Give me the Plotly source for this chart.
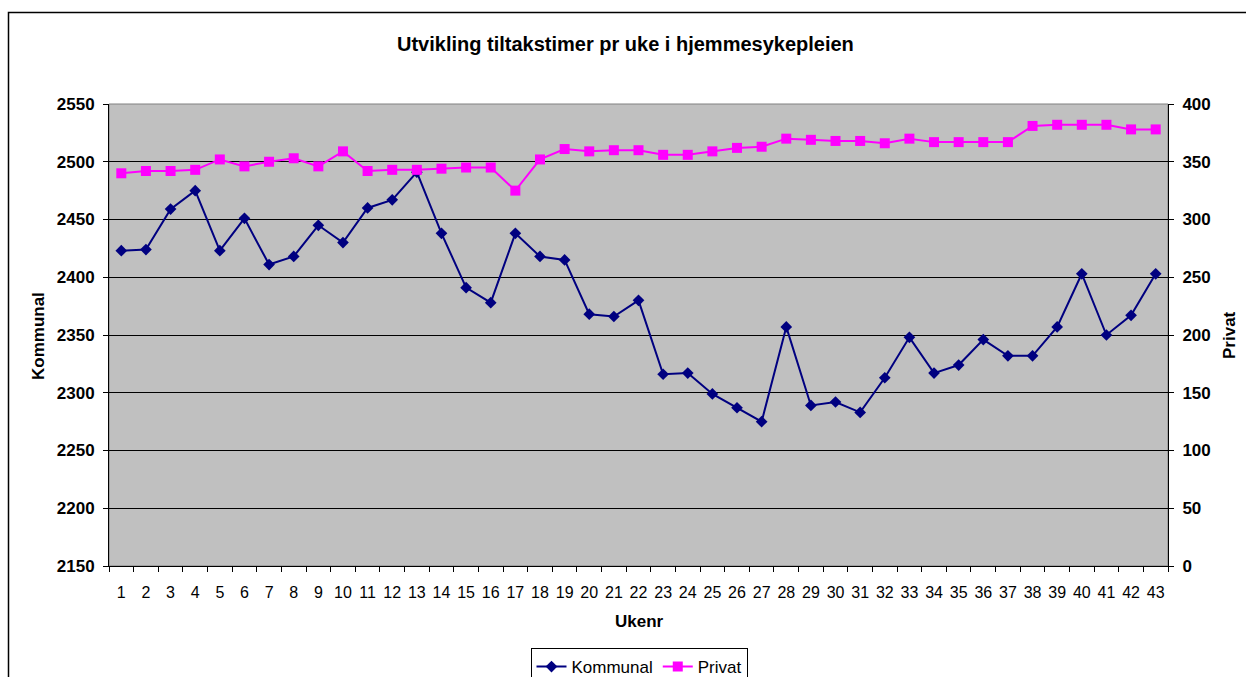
import plotly.graph_objects as go

weeks = [str(i) for i in range(1, 44)]
kommunal = [2423, 2424, 2459, 2475, 2423, 2451, 2411, 2418, 2445, 2430,
            2460, 2467, 2491, 2438, 2391, 2378, 2438, 2418, 2415, 2368,
            2366, 2380, 2316, 2317, 2299, 2287, 2275, 2357, 2289, 2292,
            2283, 2313, 2348, 2317, 2324, 2346, 2332, 2332, 2357, 2403,
            2350, 2367, 2403]
privat = [340, 342, 342, 343, 352, 346, 350, 353, 346, 359,
          342, 343, 343, 344, 345, 345, 325, 352, 361, 359,
          360, 360, 356, 356, 359, 362, 363, 370, 369, 368,
          368, 366, 370, 367, 367, 367, 367, 381, 382, 382,
          382, 378, 378]

title_text = "Utvikling tiltakstimer pr uke i hjemmesykepleien"
x_title = "Ukenr"
y1_title = "Kommunal"
y2_title = "Privat"

FONT = "Arial, Liberation Sans, sans-serif"
W, H = 1246, 677
L, R, T, B = 109, 1168, 104, 566
pw, ph = R - L, B - T

def px(x):
    return (x - L) / pw

def py(y):
    return (B - y) / ph

fig = go.Figure()
fig.add_trace(go.Scatter(
    x=weeks, y=kommunal, name="Kommunal", mode="lines+markers",
    line=dict(color="#000080", width=2),
    marker=dict(symbol="diamond", size=9, color="#000080"),
    yaxis="y"))
fig.add_trace(go.Scatter(
    x=weeks, y=privat, name="Privat", mode="lines+markers",
    line=dict(color="#FF00FF", width=2),
    marker=dict(symbol="square", size=10, color="#FF00FF"),
    yaxis="y2"))

fig.update_layout(
    width=W, height=H,
    margin=dict(l=L, r=W - R, t=T, b=H - B, autoexpand=False),
    paper_bgcolor="white",
    plot_bgcolor="#C0C0C0",
    font=dict(family=FONT, size=17, color="black"),
    showlegend=True,
    legend=dict(
        orientation="h", x=px(639), xanchor="center", y=py(648), yanchor="top",
        bgcolor="white", bordercolor="black", borderwidth=1,
        font=dict(family=FONT, size=17, color="black"),
        itemwidth=30, tracegroupgap=0,
    ),
    xaxis=dict(
        type="category", range=[-0.5, 42.5],
        showline=True, linecolor="black", linewidth=1,
        ticks="outside", tickson="boundaries", ticklen=5, tickcolor="black",
        showgrid=False, zeroline=False, tickangle=0,
        tickfont=dict(family=FONT, size=16, color="black"),
        ticklabelstandoff=12,
    ),
    yaxis=dict(
        range=[2150, 2550], dtick=50, tick0=2150,
        showline=True, linecolor="black", linewidth=1,
        ticks="outside", ticklen=5, tickcolor="black",
        showgrid=True, gridcolor="black", gridwidth=1,
        zeroline=False,
        tickfont=dict(family=FONT, size=17, color="black", weight="bold"),
        ticklabelstandoff=5,
    ),
    yaxis2=dict(
        range=[0, 400], dtick=50, tick0=0,
        overlaying="y", side="right",
        showline=True, linecolor="black", linewidth=1,
        ticks="outside", ticklen=5, tickcolor="black",
        showgrid=False, zeroline=False,
        tickfont=dict(family=FONT, size=17, color="black", weight="bold"),
        ticklabelstandoff=5,
    ),
    shapes=[
        dict(type="rect", xref="paper", yref="paper",
             x0=px(8.5), x1=px(1260), y0=py(700), y1=py(12.5),
             line=dict(color="black", width=1.5), fillcolor="rgba(0,0,0,0)",
             layer="below"),
        dict(type="rect", xref="paper", yref="paper",
             x0=0, x1=1, y0=0, y1=1,
             line=dict(color="#808080", width=1), fillcolor="rgba(0,0,0,0)",
             layer="below"),
    ],
    annotations=[
        dict(text="<b>" + title_text + "</b>", xref="paper", yref="paper",
             x=px(625), y=py(44), xanchor="center", yanchor="middle",
             showarrow=False, font=dict(family=FONT, size=20, color="black")),
        dict(text="<b>" + x_title + "</b>", xref="paper", yref="paper",
             x=px(639), y=py(621), xanchor="center", yanchor="middle",
             showarrow=False, font=dict(family=FONT, size=17, color="black")),
        dict(text="<b>" + y1_title + "</b>", xref="paper", yref="paper",
             x=px(38), y=py(336), xanchor="center", yanchor="middle",
             textangle=-90,
             showarrow=False, font=dict(family=FONT, size=17, color="black")),
        dict(text="<b>" + y2_title + "</b>", xref="paper", yref="paper",
             x=px(1229), y=py(335), xanchor="center", yanchor="middle",
             textangle=-90,
             showarrow=False, font=dict(family=FONT, size=17, color="black")),
    ],
)

fig.write_html("out.html",
               config={"displayModeBar": False},
               post_script="document.body.style.margin='0';document.body.style.overflow='hidden';")
